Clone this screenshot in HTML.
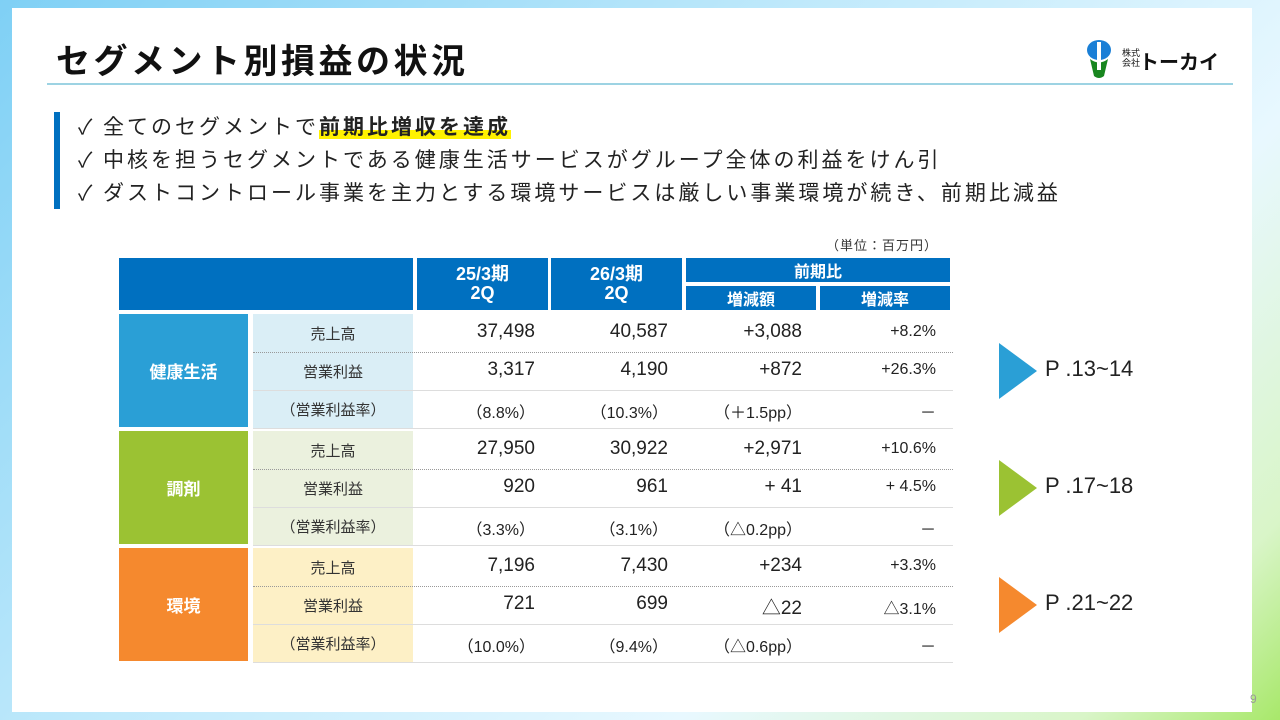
<!DOCTYPE html>
<html><head><meta charset="utf-8"><style>
*{margin:0;padding:0;box-sizing:border-box}
body{width:1280px;height:720px;position:relative;overflow:hidden;font-family:"Liberation Sans","Noto Sans CJK JP",sans-serif;background:linear-gradient(135deg,#7fd0f5 0%,#bfe9fb 40%,#e8f8ff 70%,#d9f5c8 90%,#a8e86a 100%)}
.a{position:absolute}
#panel{left:12px;top:8px;width:1240px;height:704px;background:#fff}
.t{white-space:nowrap}
.cell{position:absolute;display:flex;align-items:center;justify-content:center;color:#fff;font-weight:bold}
.lbl{position:absolute;display:flex;align-items:center;justify-content:center;font-size:15px;color:#333}
.v{position:absolute;text-align:right;font-size:19px;color:#222;white-space:nowrap}
.v.s{font-size:16px}
.sep{position:absolute;left:253px;width:700px;height:0}
.bl{font-size:21px;letter-spacing:3px;color:#222}
</style></head><body>
<div class="a" id="panel"></div>
<div class="a t" style="left:56px;top:34px;font-size:34px;font-weight:bold;color:#111;letter-spacing:3.5px">セグメント別損益の状況</div>
<div class="a" style="left:1086px;top:40px;width:140px;height:38px">
 <svg width="34" height="38" viewBox="0 0 34 38"><ellipse cx="13" cy="10" rx="12" ry="10" fill="#1a7fd6"/><path d="M4 19 Q13 26 22 19 L18 36 Q13 40 8 36 Z" fill="#18861f"/><rect x="11" y="2" width="4" height="28" fill="#fff"/></svg>
 <div class="a t" style="left:36px;top:8px;font-size:9px;line-height:10px;color:#111">株式<br>会社</div>
 <div class="a t" style="left:53px;top:6px;font-size:20px;font-weight:bold;color:#111">トーカイ</div>
</div>
<div class="a" style="left:47px;top:83px;width:1186px;height:2px;background:#9dd3e3"></div>
<div class="a" style="left:54px;top:112px;width:6px;height:97px;background:#0070c0"></div>
<div class="a t bl" style="left:78px;top:111px">✓</div>
<div class="a t bl" style="left:103px;top:111px">全てのセグメントで<span style="font-weight:bold;background:linear-gradient(transparent 60%,#fff200 60%)">前期比増収を達成</span></div>
<div class="a t bl" style="left:78px;top:144px">✓</div>
<div class="a t bl" style="left:103px;top:144px">中核を担うセグメントである健康生活サービスがグループ全体の利益をけん引</div>
<div class="a t bl" style="left:78px;top:177px">✓</div>
<div class="a t bl" style="left:103px;top:177px">ダストコントロール事業を主力とする環境サービスは厳しい事業環境が続き、前期比減益</div>
<div class="a t" style="left:826px;top:235px;font-size:13px;color:#333;letter-spacing:1px">（単位：百万円）</div>

<div class="cell" style="left:119px;top:258px;width:294px;height:52px;background:#0070c0"></div>
<div class="cell" style="left:417px;top:258px;width:131px;height:52px;background:#0070c0;font-size:18px;line-height:19px;text-align:center">25/3期<br>2Q</div>
<div class="cell" style="left:551px;top:258px;width:131px;height:52px;background:#0070c0;font-size:18px;line-height:19px;text-align:center">26/3期<br>2Q</div>
<div class="cell" style="left:686px;top:258px;width:264px;height:24px;background:#0070c0;font-size:16px">前期比</div>
<div class="cell" style="left:686px;top:286px;width:130px;height:24px;background:#0070c0;font-size:16px">増減額</div>
<div class="cell" style="left:820px;top:286px;width:130px;height:24px;background:#0070c0;font-size:16px">増減率</div>

<div id="tbl"></div>

<script>
const segments=["健康生活","調剤","環境"];
const rowLabels=["売上高","営業利益","（営業利益率）"];
const fy25=[["37,498","3,317","(8.8%)"],["27,950","920","(3.3%)"],["7,196","721","(10.0%)"]];
const fy26=[["40,587","4,190","(10.3%)"],["30,922","961","(3.1%)"],["7,430","699","(9.4%)"]];
const diffAmt=[["+3,088","+872","(＋1.5pp)"],["+2,971","+ 41","(△0.2pp)"],["+234","△22","(△0.6pp)"]];
const diffRate=[["+8.2%","+26.3%","－"],["+10.6%","+ 4.5%","－"],["+3.3%","△3.1%","－"]];
const pages=["P.13~14","P.17~18","P.21~22"];
const dark=["#2a9fd6","#9bc233","#f5892e"];
const light=["#daeef6","#ebf1de","#fdf0c6"];
const T=document.getElementById('tbl');
function mk(cls,style,txt){const d=document.createElement('div');d.className=cls;d.style.cssText=style;if(txt!==undefined)d.textContent=txt;T.appendChild(d);return d;}
segments.forEach((s,i)=>{
  const y0=314+i*117;
  let d=mk('cell',`left:119px;top:${y0}px;width:129px;height:113px;background:${dark[i]};font-size:17px`,s);
  
  
  d=mk('a',`left:253px;top:${y0}px;width:160px;height:114px;background:${light[i]}`);
  
  
  rowLabels.forEach((l,r)=>{
    const y=y0+r*38;
    d=mk('lbl',`left:253px;top:${y}px;width:160px;height:38px`,l);
    
    
    const cols=[[fy25,535],[fy26,668],[diffAmt,802],[diffRate,936]];
    cols.forEach(([arr,xr],c)=>{
      let txt=arr[i][r];
      if(r===2&&c<3) txt=txt.replace('(','（').replace(')','）');
      const small=(c===3)||(r===2);
      d=mk('v'+(small?' s':''),`right:${1280-xr}px;top:${y+(small?9:7)}px`,txt);
      
      
    });
    if(r<2){
      d=mk('sep',`top:${y+38}px;border-top:${r===0?'1px dotted #999':'1px solid #ddd'}`);
      
      
    }
  });
  d=mk('sep',`top:${y0+114}px;border-top:1px solid #ddd`);
  
  
  const ay=y0+29;
  d=mk('a',`left:999px;top:${ay}px;width:0;height:0;border-top:28px solid transparent;border-bottom:28px solid transparent;border-left:38px solid ${dark[i]}`);
  
  
  d=mk('a t',`left:1045px;top:${ay+13}px;font-size:22px;color:#222`,pages[i].replace('P.','P .'));
  
  
});
</script>
<div class="a t" style="left:1250px;top:692px;font-size:12px;color:#999">9</div>
</body></html>
